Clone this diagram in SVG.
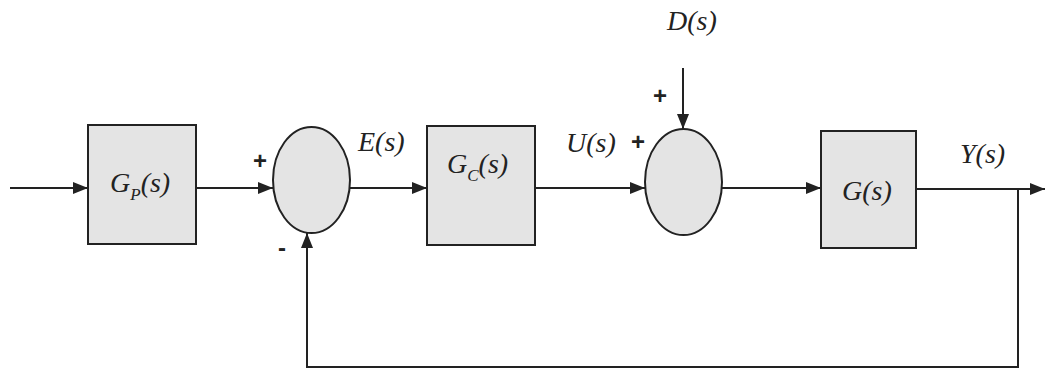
<svg xmlns="http://www.w3.org/2000/svg" width="1045" height="370" viewBox="0 0 1045 370">
<style>
.blk{fill:#e4e4e4;stroke:#222;stroke-width:2}
.ln{fill:none;stroke:#222;stroke-width:2}
.lbl{font-family:"Liberation Serif","Times New Roman",serif;font-style:italic;font-size:28px;fill:#222}
.sub{font-size:17px}
.sgn{font-family:"Liberation Sans",Arial,sans-serif;font-weight:bold;font-size:24px;fill:#222}
</style>
<defs>
<marker id="ah" viewBox="0 0 15 12" refX="15" refY="6" markerWidth="15" markerHeight="12" markerUnits="userSpaceOnUse" orient="auto">
<path d="M0,0 L15,6 L0,12 z" fill="#222"/>
</marker>
</defs>
<g id="connectors">
<line class="ln" x1="10" y1="188" x2="88" y2="188" marker-end="url(#ah)"/>
<line class="ln" x1="196" y1="188" x2="273" y2="188" marker-end="url(#ah)"/>
<line class="ln" x1="350" y1="188" x2="427" y2="188" marker-end="url(#ah)"/>
<line class="ln" x1="535" y1="188" x2="645" y2="188" marker-end="url(#ah)"/>
<line class="ln" x1="683" y1="68" x2="683" y2="129" marker-end="url(#ah)"/>
<line class="ln" x1="722" y1="188" x2="821" y2="188" marker-end="url(#ah)"/>
<line class="ln" x1="916" y1="189" x2="1045" y2="189" marker-end="url(#ah)"/>
<polyline class="ln" points="1018,189 1018,367 307,367 307,233" marker-end="url(#ah)"/>
</g>
<g id="gp">
<rect class="blk" x="88" y="125" width="108" height="119"/>
<text class="lbl" x="110" y="192">G<tspan class="sub" dy="8">P</tspan><tspan dy="-8">(s)</tspan></text>
</g>
<g id="sum1">
<ellipse class="blk" cx="311.5" cy="180" rx="38.5" ry="53"/>
<text class="sgn" x="253" y="169">+</text>
<text class="sgn" x="278" y="256">-</text>
</g>
<g id="gc">
<rect class="blk" x="427" y="126" width="108" height="119"/>
<text class="lbl" x="447" y="173">G<tspan class="sub" dy="8">C</tspan><tspan dy="-8">(s)</tspan></text>
</g>
<g id="sum2">
<ellipse class="blk" cx="683.5" cy="182" rx="38.5" ry="53"/>
<text class="sgn" x="631" y="150">+</text>
<text class="sgn" x="653" y="104">+</text>
</g>
<g id="g">
<rect class="blk" x="821" y="131" width="95" height="117"/>
<text class="lbl" x="842" y="200">G(s)</text>
</g>
<g id="labels">
<text class="lbl" x="358" y="151">E(s)</text>
<text class="lbl" x="566" y="152">U(s)</text>
<text class="lbl" x="667" y="30">D(s)</text>
<text class="lbl" x="960" y="163">Y(s)</text>
</g>
</svg>
